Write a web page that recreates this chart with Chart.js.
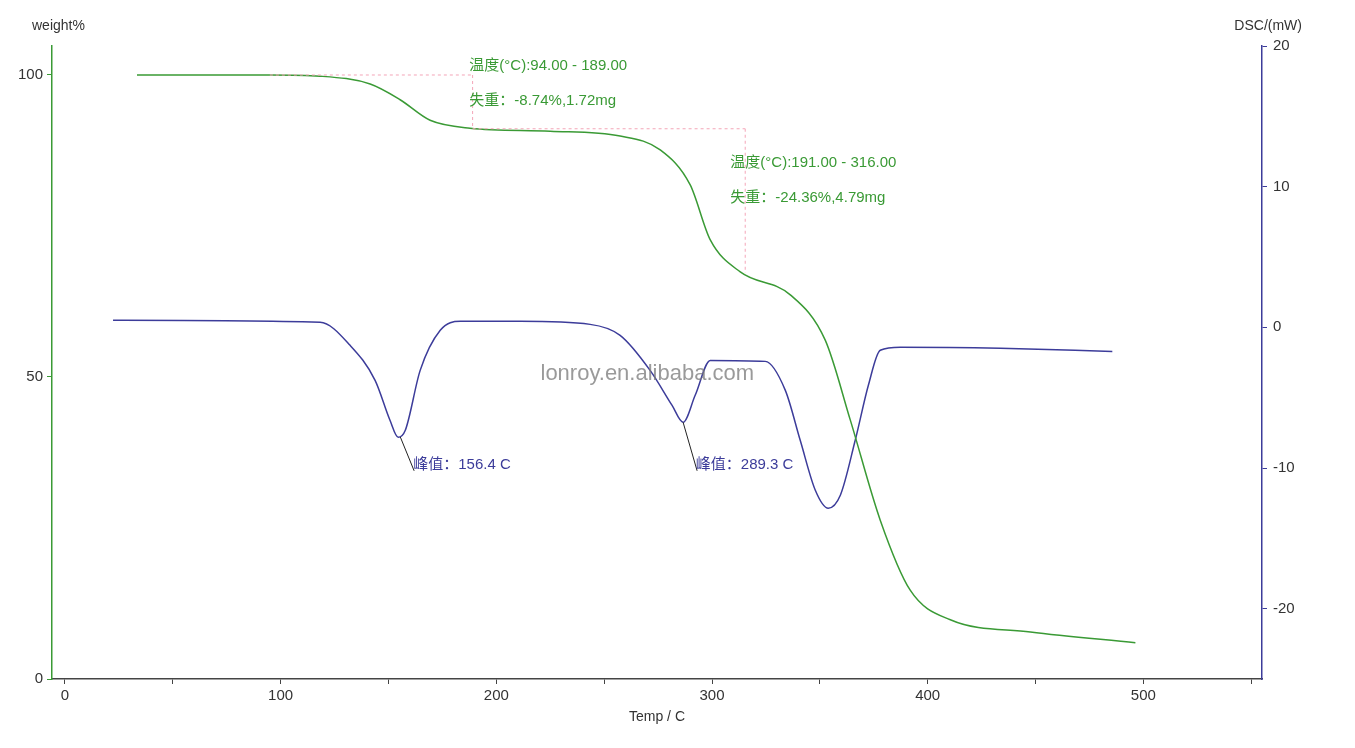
<!DOCTYPE html>
<html>
<head>
<meta charset="utf-8">
<script src="https://cdn.jsdelivr.net/npm/chart.js@4/dist/chart.umd.min.js"></script>
<style>
  html, body { margin: 0; padding: 0; background: #fff; }
  #wrap { width: 1355px; height: 748px; }
</style>
</head>
<body>
<div id="wrap"><canvas id="tga"></canvas></div>
<script>
// TGA curve (weight %) vs temperature
const tgaTemp = [33.4, 95.1, 118.3, 141.5, 155.4, 169.3, 187.8, 225, 257.4, 276, 289.9, 299.2, 313.1, 336.3, 352.5, 364.1, 378, 391.9, 410.5, 447.6, 496.3];
const tgaWeight = [100, 100, 99.8, 98.5, 95.9, 92.5, 91.2, 90.7, 89.9, 87.6, 81.8, 72.7, 67.4, 63.6, 56.1, 42.9, 26.3, 14.7, 9.8, 7.8, 6.0];

// DSC curve (mW) vs temperature
const dscTemp = [22.3, 118.3, 132.2, 143.8, 150.7, 154.5, 157.8, 164.7, 174, 183.3, 211.1, 243.5, 257.4, 271.3, 281.5, 286.6, 292.2, 299.2, 324.7, 334, 340.9, 347.9, 353.9, 359.5, 366.4, 372.5, 378, 387.3, 433.7, 485.6];
const dscPower = [0.5, 0.36, -1.28, -3.77, -6.61, -7.82, -7.32, -3.06, -0.21, 0.43, 0.43, 0.21, -0.57, -3.06, -5.55, -6.75, -4.83, -2.35, -2.42, -4.48, -8.03, -11.58, -12.86, -11.94, -8.03, -4.12, -1.63, -1.42, -1.49, -1.71];

const xTicks = [0, 50, 100, 150, 200, 250, 300, 350, 400, 450, 500, 550];
const weightTicks = [0, 50, 100];
const dscTicks = [-20, -10, 0, 10, 20];

const GREEN = '#3a9a35';
const BLUE = '#3c3c9a';

const toPts = (xs, ys) => xs.map((x, i) => ({ x: x, y: ys[i] }));

const annot = {
  id: 'annot',
  afterDatasetsDraw(chart) {
    const { ctx, scales } = chart;
    const X = scales.x, W = scales.yw, D = scales.yd;
    ctx.save();
    // step lines
    ctx.strokeStyle = '#f4a6b8';
    ctx.lineWidth = 1;
    ctx.setLineDash([3, 3]);
    const seg = (x1, y1, x2, y2) => {
      ctx.beginPath();
      ctx.moveTo(X.getPixelForValue(x1), W.getPixelForValue(y1));
      ctx.lineTo(X.getPixelForValue(x2), W.getPixelForValue(y2));
      ctx.stroke();
    };
    seg(95, 100, 189, 100);
    seg(189, 100, 189, 91.2);
    seg(189, 91.1, 315.4, 91.1);
    seg(315.4, 91.1, 315.4, 67.2);
    ctx.setLineDash([]);
    // peak leaders
    ctx.strokeStyle = '#222';
    const lead = (x1, y1, x2, y2) => {
      ctx.beginPath();
      ctx.moveTo(X.getPixelForValue(x1), D.getPixelForValue(y1));
      ctx.lineTo(X.getPixelForValue(x2), D.getPixelForValue(y2));
      ctx.stroke();
    };
    lead(155.5, -7.8, 161.9, -10.2);
    lead(286.6, -6.75, 293.1, -10.2);
    // texts
    ctx.font = '15px "Liberation Sans", "Noto Sans CJK SC", sans-serif';
    ctx.textBaseline = 'middle';
    ctx.textAlign = 'left';
    ctx.fillStyle = GREEN;
    const txt = (s, x, y) => ctx.fillText(s, X.getPixelForValue(x), W.getPixelForValue(y));
    txt('温度(°C):94.00 - 189.00', 187.5, 101.5);
    txt('失重：-8.74%,1.72mg', 187.5, 95.8);
    txt('温度(°C):191.00 - 316.00', 308.5, 85.5);
    txt('失重：-24.36%,4.79mg', 308.5, 79.7);
    ctx.fillStyle = BLUE;
    const dtxt = (s, x, y) => ctx.fillText(s, X.getPixelForValue(x), D.getPixelForValue(y));
    dtxt('峰值：156.4 C', 161.5, -9.8);
    dtxt('峰值：289.3 C', 292.5, -9.8);
    // watermark
    ctx.fillStyle = 'rgba(120,120,120,0.75)';
    ctx.font = '22px "Liberation Sans", sans-serif';
    ctx.textAlign = 'center';
    ctx.fillText('lonroy.en.alibaba.com', X.getPixelForValue(270), W.getPixelForValue(50.5));
    // axis titles
    ctx.fillStyle = '#333';
    ctx.font = '14px "Liberation Sans", sans-serif';
    ctx.textAlign = 'left';
    ctx.fillText('weight%', 32, 26);
    ctx.textAlign = 'right';
    ctx.fillText('DSC/(mW)', 1302, 26);
    ctx.restore();
  }
};

const tickFont = { family: '"Liberation Sans", sans-serif', size: 15 };

new Chart(document.getElementById('tga'), {
  type: 'scatter',
  data: {
    datasets: [
      {
        label: 'TGA',
        data: toPts(tgaTemp, tgaWeight),
        yAxisID: 'yw',
        showLine: true,
        borderColor: GREEN,
        borderWidth: 1.5,
        pointRadius: 0,
        cubicInterpolationMode: 'monotone'
      },
      {
        label: 'DSC',
        data: toPts(dscTemp, dscPower),
        yAxisID: 'yd',
        showLine: true,
        borderColor: BLUE,
        borderWidth: 1.5,
        pointRadius: 0,
        cubicInterpolationMode: 'monotone'
      }
    ]
  },
  options: {
    responsive: true,
    maintainAspectRatio: false,
    animation: false,
    layout: { padding: { top: 46, right: 0, left: 0, bottom: 0 } },
    plugins: { legend: { display: false }, tooltip: { enabled: false } },
    scales: {
      x: {
        type: 'linear',
        min: -6,
        max: 555,
        afterBuildTicks: s => { s.ticks = xTicks.map(v => ({ value: v })); },
        ticks: { color: '#333', font: tickFont, autoSkip: false, maxRotation: 0, padding: 3,
                 callback: v => (v % 100 === 0 && v <= 500) ? v : '' },
        grid: { display: true, drawOnChartArea: false, drawTicks: true, tickLength: 5, color: '#444' },
        border: { color: '#444', width: 1.5 },
        title: { display: true, text: 'Temp / C', color: '#333', font: { family: '"Liberation Sans", sans-serif', size: 14 }, padding: { top: 2, bottom: 22 } },
        afterFit: s => { s.height = 69; }
      },
      yw: {
        type: 'linear',
        position: 'left',
        min: 0,
        max: 104.8,
        afterBuildTicks: s => { s.ticks = weightTicks.map(v => ({ value: v })); },
        ticks: { color: '#333', font: tickFont, padding: 4 },
        grid: { display: true, drawOnChartArea: false, drawTicks: true, tickLength: 5, color: GREEN },
        border: { color: GREEN, width: 1.5 },
        afterFit: s => { s.width = 52; }
      },
      yd: {
        type: 'linear',
        position: 'right',
        min: -25,
        max: 20,
        afterBuildTicks: s => { s.ticks = dscTicks.map(v => ({ value: v })); },
        ticks: { color: '#333', font: tickFont, padding: 6 },
        grid: { display: true, drawOnChartArea: false, drawTicks: true, tickLength: 5, color: BLUE },
        border: { color: BLUE, width: 1.5 },
        afterFit: s => { s.width = 93; }
      }
    }
  },
  plugins: [annot]
});
</script>
</body>
</html>
